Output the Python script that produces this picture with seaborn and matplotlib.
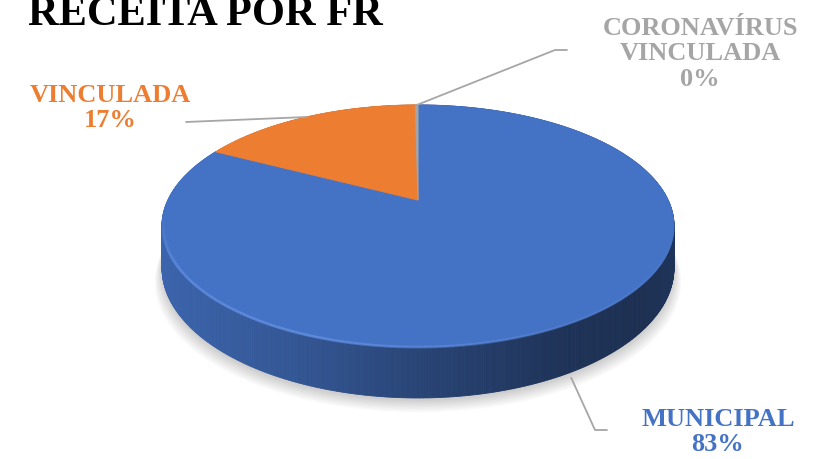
import numpy as np
import matplotlib
matplotlib.use("Agg")
import matplotlib.pyplot as plt
from matplotlib.collections import PolyCollection, LineCollection
from matplotlib.patches import Polygon
import matplotlib.colors as mcolors
import seaborn as sns

# data
categories = ["MUNICIPAL", "VINCULADA", "CORONAVÍRUS\nVINCULADA"]
shares = [82.6, 17.2, 0.2]
title = "RECEITA POR FR"

sns.set_theme(style="white")
plt.rcParams['font.family'] = ['Liberation Serif', 'DejaVu Serif']
palette = sns.color_palette(["#4472C4", "#ED7D31", "#A5A5A5"])

fig = plt.figure(figsize=(8.16, 4.59), dpi=100)
ax = fig.add_axes([0, 0, 1, 1])
ax.set_xlim(0, 816)
ax.set_ylim(459, 0)
ax.axis('off')

# perspective of the pie disc (pixel space)
cx, cy = 418, 200
A, B, k, T = 250, 115.4, 0.215, 40


def proj(phi, r=1.0, d=0.0):
    # phi clockwise from 12 o'clock, far side is up
    u = r * np.sin(phi)
    v = r * np.cos(phi)
    w = 1 + k * v
    return cx + A * u / w, cy - B * v / w + T * d / w


vals = np.array(shares, dtype=float)
fr = vals / vals.sum()
edges = np.concatenate([[0], np.cumsum(fr)]) * 2 * np.pi

# soft shadow under the disc
phis = np.linspace(0, 2 * np.pi, 400)
bx, by = proj(phis, 1.0, 1.0)
for s in range(8):
    sc = 1.0 + s * 0.004
    pts = np.column_stack([cx + (bx - cx) * sc, by + 3 + s * 1.6])
    ax.add_patch(Polygon(pts, closed=True, facecolor='black', edgecolor='none',
                         alpha=0.025, zorder=1))

# side wall
n = 720
ph = np.linspace(0, 2 * np.pi, n + 1)
tx, ty = proj(ph, 1.0, 0.0)
lx, ly = proj(ph, 1.0, 1.0)
polys, cols = [], []
for i in range(n):
    mid = 0.5 * (ph[i] + ph[i + 1])
    idx = min(np.searchsorted(edges, mid) - 1, len(vals) - 1)
    base = np.array(mcolors.to_rgb(palette[idx]))
    xm = 0.5 * (tx[i] + tx[i + 1])
    f = np.interp(xm, [162, 300, 420, 560, 640, 676], [0.88, 0.75, 0.6, 0.45, 0.42, 0.46])
    polys.append([(tx[i], ty[i]), (tx[i + 1], ty[i + 1]),
                  (lx[i + 1], ly[i + 1]), (lx[i], ly[i])])
    cols.append(base * f)
ax.add_collection(PolyCollection(polys, facecolors=cols, edgecolors=cols,
                                 linewidths=0.6, zorder=2))

# top faces
for i in range(len(vals)):
    a = np.linspace(edges[i], edges[i + 1], max(4, int(fr[i] * 400)))
    x, y = proj(a)
    pts = np.column_stack([np.r_[cx, x], np.r_[cy, y]])
    ax.add_patch(Polygon(pts, closed=True, facecolor=palette[i],
                         edgecolor=palette[i], linewidth=0.8, zorder=3))

# bevel highlight along the front rim
hp = np.linspace(np.radians(100), np.radians(262), 200)
hx, hy = proj(hp, 0.995, 0.02)
segs = [[(hx[j], hy[j]), (hx[j + 1], hy[j + 1])] for j in range(len(hp) - 1)]
alph = np.interp(np.degrees(hp[:-1]), [100, 150, 200, 240, 262], [0.0, 0.2, 0.55, 0.45, 0.0])
hl = [(0.45, 0.62, 0.95, a) for a in alph]
ax.add_collection(LineCollection(segs, colors=hl, linewidths=2.0, zorder=4))

# labels and leader lines
mids = 0.5 * (edges[:-1] + edges[1:])
lab_pos = [(718, 432), (110, 108), (700, 54)]
leaders = [[(595, 430), (607, 430)], [(186, 122)], [(555, 50), (567, 50)]]
for i, name in enumerate(categories):
    pct = fr[i] * 100
    ax.text(lab_pos[i][0], lab_pos[i][1], f"{name}\n{pct:.0f}%", ha='center', va='center',
            fontsize=19, fontweight='bold', color=palette[i], linespacing=1.15, zorder=6)
    if i == 0:
        axx, ayy = proj(mids[i], 1.0, 1.0)
        anchor = (axx - 6, ayy + 8)
    else:
        anchor = proj(mids[i])
    lx_, ly_ = zip(*([anchor] + leaders[i]))
    ax.plot(lx_, ly_, color='#A6A6A6', linewidth=1.3, zorder=5)

ax.text(28, 25, title, ha='left', va='baseline', fontsize=30.5,
        fontweight='bold', color='black', zorder=6)

fig.savefig("out.png", dpi=100)
